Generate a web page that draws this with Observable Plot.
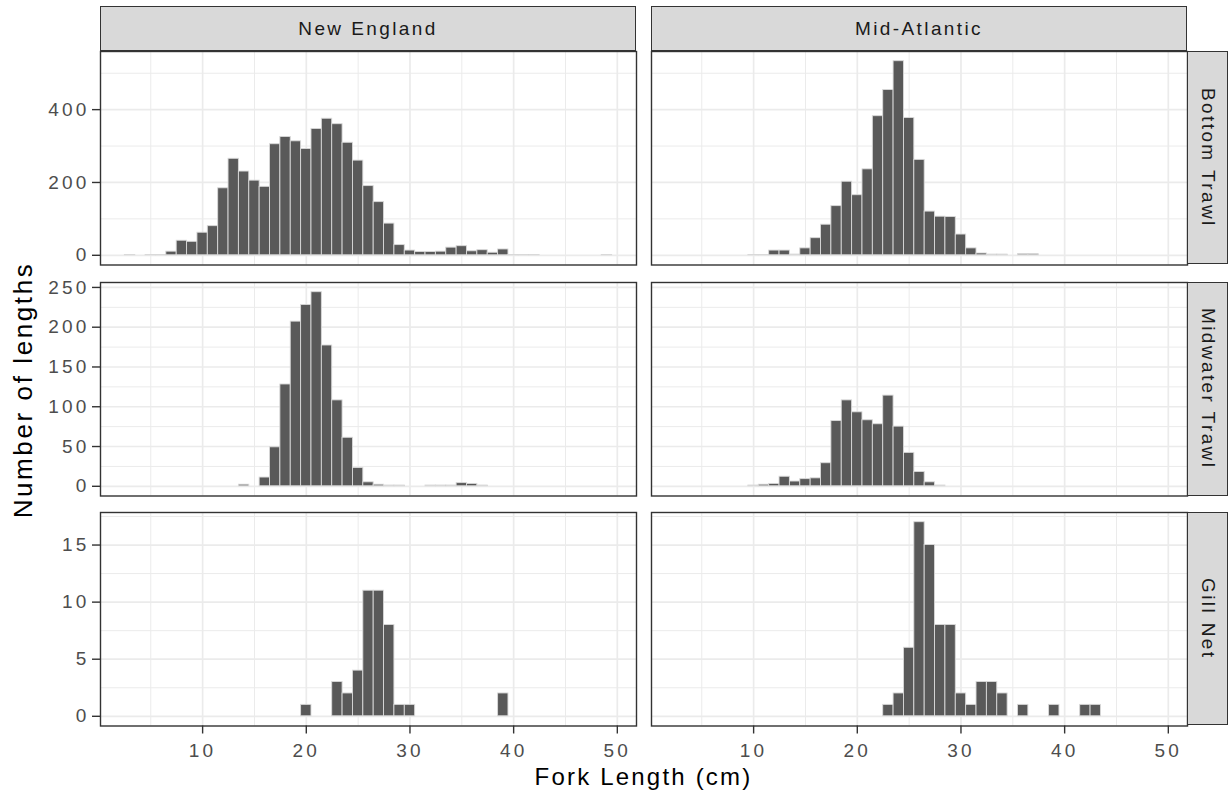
<!DOCTYPE html>
<html><head><meta charset="utf-8">
<script src="https://cdn.jsdelivr.net/npm/d3@7"></script>
<script src="https://cdn.jsdelivr.net/npm/@observablehq/plot@0.6"></script>
<style>
body{margin:0;background:#fff;}
#wrap{position:relative;width:1231px;height:797px;font-family:"Liberation Sans",Arial,sans-serif;overflow:hidden;}
.row{position:absolute;left:0;}
.row svg{overflow:visible;}
.row svg text{letter-spacing:3.2px;}
.strip{position:absolute;background:#d9d9d9;border:1px solid #333;box-sizing:border-box;display:flex;align-items:center;justify-content:center;color:#1a1a1a;font-size:19px;letter-spacing:2.4px;}
.vstrip{writing-mode:vertical-rl;}
.title{position:absolute;color:#000;white-space:nowrap;}
</style>
</head><body>
<div id="wrap"></div>
<script>
const regions = ["New England", "Mid-Atlantic"];
const gears = ["Bottom Trawl", "Midwater Trawl", "Gill Net"];
const xTitle = "Fork Length (cm)";
const yTitle = "Number of lengths";
const xMajor = [10, 20, 30, 40, 50];
const xMinor = [5, 15, 25, 35, 45];

// New England – Bottom Trawl
const neBottomLen   = [3, 5, 6, 7, 8, 9, 10, 11, 12, 13, 14, 15, 16, 17, 18, 19, 20, 21, 22, 23, 24, 25, 26, 27, 28, 29, 30, 31, 32, 33, 34, 35, 36, 37, 38, 39, 40, 41, 42, 49];
const neBottomCount = [1, 1, 1, 10, 40, 37, 62, 80, 184, 265, 230, 205, 188, 305, 325, 313, 292, 347, 375, 360, 309, 260, 190, 146, 87, 28, 13, 9, 9, 10, 21, 25, 11, 14, 7, 16, 1, 1, 1, 1];
// Mid-Atlantic – Bottom Trawl
const maBottomLen   = [10, 11, 12, 13, 14, 15, 16, 17, 18, 19, 20, 21, 22, 23, 24, 25, 26, 27, 28, 29, 30, 31, 32, 33, 34, 36, 37];
const maBottomCount = [1, 1, 13, 13, 2, 19, 47, 84, 135, 202, 165, 236, 382, 454, 533, 377, 262, 120, 106, 105, 57, 19, 5, 2, 2, 3, 3];
// New England – Midwater Trawl
const neMidLen   = [14, 16, 17, 18, 19, 20, 21, 22, 23, 24, 25, 26, 27, 28, 29, 32, 33, 34, 35, 36, 37];
const neMidCount = [2, 11, 49, 128, 207, 228, 244, 177, 108, 61, 23, 5, 2, 1, 1, 1, 1, 1, 4, 3, 1];
// Mid-Atlantic – Midwater Trawl
const maMidLen   = [10, 11, 12, 13, 14, 15, 16, 17, 18, 19, 20, 21, 22, 23, 24, 25, 26, 27, 28];
const maMidCount = [1, 2, 3, 12, 6, 9, 10, 29, 82, 108, 93, 83, 78, 114, 75, 42, 18, 5, 1];
// New England – Gill Net
const neGillLen   = [20, 23, 24, 25, 26, 27, 28, 29, 30, 39];
const neGillCount = [1, 3, 2, 4, 11, 11, 8, 1, 1, 2];
// Mid-Atlantic – Gill Net
const maGillLen   = [23, 24, 25, 26, 27, 28, 29, 30, 31, 32, 33, 34, 36, 39, 42, 43];
const maGillCount = [1, 2, 6, 17, 15, 8, 8, 2, 1, 3, 3, 2, 1, 1, 1, 1];

const yDomains = [[-26.65, 559.65], [-12.2, 256.2], [-0.85, 17.85]];
const yMajors = [[0, 200, 400], [0, 50, 100, 150, 200, 250], [0, 5, 10, 15]];
const yMinors = [[100, 300, 500], [25, 75, 125, 175, 225], [2.5, 7.5, 12.5, 17.5]];

function table(region, lens, counts) {
  return lens.map((len, i) => ({region, len, count: counts[i]}));
}
const rowsData = [
  [...table(regions[0], neBottomLen, neBottomCount), ...table(regions[1], maBottomLen, maBottomCount)],
  [...table(regions[0], neMidLen, neMidCount), ...table(regions[1], maMidLen, maMidCount)],
  [...table(regions[0], neGillLen, neGillCount), ...table(regions[1], maGillLen, maGillCount)]
];

const panelTops = [50.7, 282, 511.5];
const panelH = 213.5;
const W = 1231, mL = 100, mR = 44;
const wrap = document.getElementById("wrap");

rowsData.forEach((data, r) => {
  const last = r === rowsData.length - 1;
  const chart = Plot.plot({
    width: W,
    height: panelH + (last ? 40 : 0),
    marginLeft: mL, marginRight: mR, marginTop: 0, marginBottom: last ? 40 : 0,
    x: {domain: [0.15, 51.85], axis: null},
    y: {domain: yDomains[r], axis: null},
    fx: {domain: regions, paddingInner: 15 / 551, paddingOuter: 0, axis: null},
    style: {fontFamily: '"Liberation Sans", Arial, sans-serif', fontSize: "19px", background: "transparent", overflow: "visible"},
    marks: [
      Plot.gridX(xMinor, {stroke: "#ebebeb", strokeOpacity: 1, strokeWidth: 1}),
      Plot.gridY(yMinors[r], {stroke: "#ebebeb", strokeOpacity: 1, strokeWidth: 1}),
      Plot.gridX(xMajor, {stroke: "#ebebeb", strokeOpacity: 1, strokeWidth: 1.7}),
      Plot.gridY(yMajors[r], {stroke: "#ebebeb", strokeOpacity: 1, strokeWidth: 1.7}),
      Plot.rectY(data, {fx: "region", x1: d => d.len - 0.5, x2: d => d.len + 0.5, y1: 0, y2: "count",
        fill: "#595959", stroke: "#d9d9d9", strokeWidth: 0.9}),
      Plot.frame({stroke: "#333333", strokeWidth: 1.4}),
      Plot.axisY(yMajors[r], {tickSize: 8, tickPadding: 3, stroke: "#333333", strokeWidth: 1.4, fill: "#4d4d4d", label: null, tickFormat: d => String(d)}),
      last ? Plot.axisX(xMajor, {tickSize: 8, tickPadding: 9, stroke: "#333333", strokeWidth: 1.4, fill: "#4d4d4d", label: null, tickFormat: d => String(d)}) : null
    ]
  });
  const div = document.createElement("div");
  div.className = "row";
  div.style.top = panelTops[r] + "px";
  div.appendChild(chart);
  wrap.appendChild(div);

  // right-hand strip
  const s = document.createElement("div");
  s.className = "strip vstrip";
  s.style.left = "1187px"; s.style.width = "41px";
  s.style.top = panelTops[r] + "px"; s.style.height = panelH + "px";
  s.textContent = gears[r];
  wrap.appendChild(s);
});

// top strips
const bandW = 536, gap = 15;
regions.forEach((reg, i) => {
  const s = document.createElement("div");
  s.className = "strip";
  s.style.left = (mL + i * (bandW + gap)) + "px";
  s.style.width = bandW + "px";
  s.style.top = "6px"; s.style.height = "45px";
  s.textContent = reg;
  wrap.appendChild(s);
});

// axis titles
const xt = document.createElement("div");
xt.className = "title";
xt.textContent = xTitle;
xt.style.fontSize = "24px"; xt.style.letterSpacing = "2.2px";
xt.style.left = "643.5px"; xt.style.top = "777px";
xt.style.transform = "translate(-50%, -50%)";
wrap.appendChild(xt);

const yt = document.createElement("div");
yt.className = "title";
yt.textContent = yTitle;
yt.style.fontSize = "26px"; yt.style.letterSpacing = "2.6px";
yt.style.left = "23px"; yt.style.top = "390px";
yt.style.transform = "translate(-50%, -50%) rotate(-90deg)";
wrap.appendChild(yt);
</script>
</body></html>
